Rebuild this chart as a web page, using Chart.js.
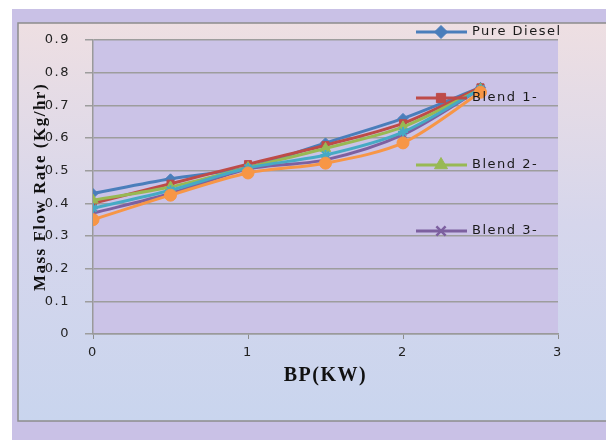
<!DOCTYPE html>
<html>
<head>
<meta charset="utf-8">
<script src="https://cdn.jsdelivr.net/npm/chart.js@4"></script>
<style>
  html, body { margin: 0; padding: 0; background: #ffffff; }
  #wrap { width: 606px; height: 440px; }
</style>
</head>
<body>
<div id="wrap"><canvas id="flowChart" width="606" height="440"></canvas></div>
<script>
// BP (KW) values on the x axis
const bpValues = [0, 0.5, 1, 1.5, 2, 2.5];

// mass flow rate (Kg/hr) for each fuel
const pureDiesel = [0.43, 0.475, 0.51, 0.585, 0.66, 0.755];
const blend1 = [0.40, 0.46, 0.52, 0.578, 0.645, 0.755];
const blend2 = [0.41, 0.45, 0.51, 0.568, 0.634, 0.75];
const blend3 = [0.37, 0.43, 0.505, 0.533, 0.61, 0.75];
const blend4 = [0.385, 0.44, 0.508, 0.548, 0.618, 0.75];
const blend5 = [0.35, 0.425, 0.493, 0.523, 0.585, 0.74];

const seriesNames = ['Pure Diesel', 'Blend 1-', 'Blend 2-', 'Blend 3-', 'Blend 4-', 'Blend 5-'];
const seriesValues = [pureDiesel, blend1, blend2, blend3, blend4, blend5];
const seriesColors = ['#4a7ebb', '#be4b48', '#98b954', '#7d60a0', '#46aac5', '#f79646'];
const seriesMarkers = ['rectRot', 'rect', 'triangle', 'crossRot', 'star', 'circle'];
const markerSizes = [5, 5, 6, 5, 5, 6];

const yTicks = [0, 0.1, 0.2, 0.3, 0.4, 0.5, 0.6, 0.7, 0.8, 0.9];
const xTicks = [0, 1, 2, 3];

// only the first four entries fit in the legend box
const legendCount = 4;

const datasets = seriesValues.map((vals, i) => ({
  label: seriesNames[i],
  data: vals.map((v, j) => ({ x: bpValues[j], y: v })),
  borderColor: seriesColors[i],
  backgroundColor: seriesColors[i],
  borderWidth: 3,
  tension: 0.3,
  pointStyle: seriesMarkers[i],
  pointRadius: markerSizes[i],
  pointBorderWidth: seriesMarkers[i] === 'crossRot' || seriesMarkers[i] === 'star' ? 2 : 1,
  order: seriesValues.length - 1 - i
}));

// frame + backgrounds like the excel chart
const frame = {
  id: 'frame',
  beforeDraw(chart) {
    const ctx = chart.ctx;
    const a = chart.chartArea;
    ctx.save();
    ctx.fillStyle = '#ffffff';
    ctx.fillRect(0, 0, chart.width, chart.height);
    ctx.fillStyle = '#c9c1e6';
    ctx.fillRect(12, 9, chart.width - 12, chart.height - 9);
    const g = ctx.createLinearGradient(0, 23, 0, 421);
    g.addColorStop(0, '#eedfe2');
    g.addColorStop(0.5, '#d6d6ec');
    g.addColorStop(1, '#c9d5ee');
    ctx.fillStyle = g;
    ctx.fillRect(18, 23, chart.width - 18, 398);
    ctx.strokeStyle = '#8c8c8c';
    ctx.lineWidth = 1.5;
    ctx.strokeRect(18, 23, chart.width - 16, 398);
    ctx.fillStyle = '#cbc3e7';
    ctx.fillRect(a.left, a.top, a.right - a.left, a.bottom - a.top);
    ctx.restore();
    ctx.letterSpacing = '1.5px';
  }
};

// legend drawn over the right of the plot
const sideLegend = {
  id: 'sideLegend',
  afterDraw(chart) {
    const ctx = chart.ctx;
    const rows = [32, 98, 165, 231];
    ctx.save();
    ctx.letterSpacing = '1.5px';
    for (let i = 0; i < legendCount; i++) {
      const y = rows[i];
      const c = seriesColors[i];
      ctx.strokeStyle = c;
      ctx.lineWidth = 3;
      ctx.beginPath();
      ctx.moveTo(416, y);
      ctx.lineTo(467, y);
      ctx.stroke();
      ctx.fillStyle = c;
      ctx.lineWidth = seriesMarkers[i] === 'crossRot' ? 2.5 : 1;
      Chart.helpers.drawPoint(ctx, {
        pointStyle: seriesMarkers[i],
        radius: markerSizes[i] + 1.5,
        rotation: 0,
        borderWidth: ctx.lineWidth
      }, 441, y);
      ctx.fillStyle = '#1a1a1a';
      ctx.font = '13px "DejaVu Sans"';
      ctx.textBaseline = 'middle';
      ctx.textAlign = 'left';
      ctx.fillText(seriesNames[i], 472, y);
    }
    ctx.restore();
  }
};

const ctx = document.getElementById('flowChart').getContext('2d');
const flowChart = new Chart(ctx, {
  type: 'line',
  data: { datasets: datasets },
  plugins: [frame, sideLegend],
  options: {
    responsive: false,
    animation: false,
    layout: { padding: { top: 40, right: 48, left: 0, bottom: 0 } },
    plugins: {
      legend: { display: false },
      tooltip: { enabled: false }
    },
    scales: {
      x: {
        type: 'linear',
        min: xTicks[0],
        max: xTicks[xTicks.length - 1],
        afterBuildTicks: scale => { scale.ticks = xTicks.map(v => ({ value: v })); },
        afterFit: scale => { scale.height = 106; },
        grid: { drawOnChartArea: false, tickLength: 5, color: '#8c8c8c' },
        border: { color: '#9a9a9a', width: 1.5 },
        ticks: {
          padding: 6,
          color: '#222222',
          font: { family: 'DejaVu Sans', size: 13 }
        },
        title: {
          display: true,
          text: 'BP(KW)',
          color: '#111111',
          font: { family: 'Liberation Serif', size: 20, weight: 'bold' },
          padding: { top: 0, bottom: 52 }
        }
      },
      y: {
        min: yTicks[0],
        max: yTicks[yTicks.length - 1],
        afterBuildTicks: scale => { scale.ticks = yTicks.map(v => ({ value: v })); },
        afterFit: scale => { scale.width = 93; },
        grid: { color: '#9d9d9d', lineWidth: 1.5, tickLength: 8 },
        border: { color: '#9a9a9a', width: 1.5 },
        ticks: {
          padding: 15,
          color: '#222222',
          font: { family: 'DejaVu Sans', size: 13 },
          callback: v => v === 0 ? '0' : v.toFixed(1)
        },
        title: {
          display: true,
          text: 'Mass Flow Rate (Kg/hr)',
          color: '#111111',
          font: { family: 'Liberation Serif', size: 17, weight: 'bold' },
          padding: { top: 30, bottom: 0 }
        }
      }
    }
  }
});
</script>
</body>
</html>
